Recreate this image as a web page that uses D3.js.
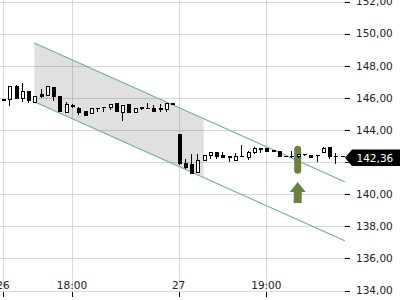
<!DOCTYPE html>
<html>
<head>
<meta charset="utf-8">
<script src="https://cdn.jsdelivr.net/npm/d3@7"></script>
<style>
  body { margin: 0; background: #fff; }
  svg { display: block; font-family: "DejaVu Sans", sans-serif; }
</style>
</head>
<body>
<div id="chart"></div>
<script>
// 15 minute candles
const opens  = [145.87, 145.93, 146.74, 145.99, 146.37, 145.74, 146.24, 146.12, 146.62, 146.06,
                145.12, 145.50, 145.37, 145.18, 145.00, 145.37, 145.43, 145.43, 145.62, 145.12,
                145.56, 145.12, 145.43, 145.34, 145.37, 145.37, 145.25, 145.65, 143.75, 141.94,
                141.82, 141.38, 142.07, 142.44, 142.57, 142.44, 142.32, 142.07, 142.38, 142.26,
                142.57, 142.82, 142.82, 142.75, 142.63, 142.38, 142.38, 142.32, 142.50, 142.44,
                142.44, 142.57, 142.88, 142.38, 142.36];
const highs  = [145.88, 146.74, 146.80, 146.93, 146.37, 146.06, 146.55, 146.68, 146.62, 146.06,
                145.74, 145.62, 145.43, 145.18, 145.37, 145.37, 145.43, 145.56, 145.62, 145.50,
                145.56, 145.37, 145.43, 145.68, 145.56, 145.62, 145.62, 145.65, 143.75, 142.19,
                142.50, 142.50, 142.44, 142.63, 142.63, 142.63, 142.32, 142.57, 143.07, 142.69,
                142.94, 142.82, 142.82, 142.75, 142.63, 142.40, 142.69, 142.50, 142.50, 142.44,
                142.44, 142.94, 142.94, 142.57, 142.36];
const lows   = [145.86, 145.50, 145.99, 145.74, 145.68, 145.74, 145.99, 146.12, 145.81, 145.18,
                145.12, 145.37, 144.93, 144.93, 145.00, 145.12, 145.12, 145.25, 145.18, 144.56,
                145.06, 145.12, 145.25, 145.31, 145.18, 145.12, 145.12, 145.62, 141.82, 141.57,
                141.32, 141.38, 142.07, 142.19, 142.19, 142.26, 142.01, 142.07, 142.32, 142.13,
                142.50, 142.57, 142.63, 142.63, 142.38, 142.36, 142.26, 142.26, 142.38, 142.26,
                142.01, 142.57, 142.19, 141.88, 142.36];
const closes = [145.87, 146.68, 145.99, 146.37, 145.81, 146.06, 146.06, 146.68, 146.06, 145.18,
                145.56, 145.47, 145.06, 144.93, 145.37, 145.34, 145.40, 145.56, 145.18, 145.50,
                145.06, 145.37, 145.37, 145.31, 145.18, 145.25, 145.62, 145.62, 141.94, 141.69,
                141.32, 142.13, 142.44, 142.57, 142.32, 142.26, 142.29, 142.32, 142.32, 142.57,
                142.82, 142.79, 142.63, 142.63, 142.38, 142.38, 142.32, 142.50, 142.47, 142.26,
                142.41, 142.82, 142.38, 142.32, 142.36];

const xTickIdx    = [0, 11, 28, 42];
const xTickLabels = ["26", "18:00", "27", "19:00"];
const yTicks      = [134, 136, 138, 140, 142, 144, 146, 148, 150, 152];

// trend channel: [start index, end index] and values at those ends
const chanIdx   = [5, 54.5];
const chanUpper = [149.42, 140.78];
const chanLower = [145.76, 137.10];
const shadeEnd  = 32;

// signal marker
const signalIdx  = 47;
const signalBand = [143.02, 141.28];
const arrowSpan  = [140.76, 139.45];

const lastPrice = closes[closes.length - 1];

const width = 400, height = 300;
const plotRight = 345;

const svg = d3.select("#chart").append("svg")
    .attr("width", width)
    .attr("height", height);

const x = d3.scaleLinear().domain([0, 54]).range([3, 341.6]);
const y = d3.scaleLinear().domain([134, 152]).range([290.5, 1.6]);
const px = v => Math.round(v) + 0.5;
const fmt = v => d3.format(".2f")(v).replace(".", ",");

// grid
svg.append("g")
    .selectAll("line")
    .data(yTicks)
    .join("line")
    .attr("x1", 0).attr("x2", plotRight)
    .attr("y1", d => px(y(d))).attr("y2", d => px(y(d)))
    .attr("stroke", "#d9d9d9");

svg.append("g")
    .selectAll("line")
    .data(xTickIdx)
    .join("line")
    .attr("x1", d => px(x(d))).attr("x2", d => px(x(d)))
    .attr("y1", 0).attr("y2", px(y(134)))
    .attr("stroke", "#d9d9d9");

// channel
const upAt = t => chanUpper[0] + (chanUpper[1] - chanUpper[0]) * (t - chanIdx[0]) / (chanIdx[1] - chanIdx[0]);
const loAt = t => chanLower[0] + (chanLower[1] - chanLower[0]) * (t - chanIdx[0]) / (chanIdx[1] - chanIdx[0]);

svg.append("path")
    .attr("d", d3.line()([
        [x(chanIdx[0]), y(upAt(chanIdx[0]))],
        [x(shadeEnd), y(upAt(shadeEnd))],
        [x(shadeEnd), y(loAt(shadeEnd))],
        [x(chanIdx[0]), y(loAt(chanIdx[0]))]
    ]) + "Z")
    .attr("fill", "rgba(0,0,0,0.12)");

svg.append("line")
    .attr("x1", x(chanIdx[0])).attr("y1", y(chanUpper[0]))
    .attr("x2", x(chanIdx[1])).attr("y2", y(chanUpper[1]))
    .attr("stroke", "#6fadb3").attr("stroke-width", 1.2);
svg.append("line")
    .attr("x1", x(chanIdx[0])).attr("y1", y(chanLower[0]))
    .attr("x2", x(chanIdx[1])).attr("y2", y(chanLower[1]))
    .attr("stroke", "#6fadb3").attr("stroke-width", 1.2);

// signal marker + arrow
const sx = x(signalIdx);
svg.append("rect")
    .attr("x", sx - 3.5).attr("width", 7)
    .attr("y", y(signalBand[0])).attr("height", y(signalBand[1]) - y(signalBand[0]))
    .attr("rx", 3.5)
    .attr("fill", "#6d8040");

const aTop = y(arrowSpan[0]), aBot = y(arrowSpan[1]);
const aHead = aTop + 10;
svg.append("path")
    .attr("d", d3.line()([
        [sx, aTop], [sx + 8, aHead], [sx + 4, aHead], [sx + 4, aBot],
        [sx - 4, aBot], [sx - 4, aHead], [sx - 8, aHead]
    ]) + "Z")
    .attr("fill", "#6d8040");

// candles
const candles = d3.range(opens.length).map(i => ({
    i: i, o: opens[i], h: highs[i], l: lows[i], c: closes[i]
}));

const cg = svg.append("g").attr("shape-rendering", "crispEdges");
cg.selectAll(".wick")
    .data(candles)
    .join("line")
    .attr("class", "wick")
    .attr("x1", d => px(x(d.i))).attr("x2", d => px(x(d.i)))
    .attr("y1", d => y(d.h)).attr("y2", d => y(d.l))
    .attr("stroke", "#000");

cg.selectAll(".body")
    .data(candles)
    .join("rect")
    .attr("class", "body")
    .attr("x", d => px(x(d.i)) - 1.5)
    .attr("width", 3)
    .attr("y", d => y(Math.max(d.o, d.c)))
    .attr("height", d => Math.max(0.5, Math.abs(y(d.o) - y(d.c))))
    .attr("fill", d => d.c >= d.o ? "#fff" : "#000")
    .attr("stroke", "#000");

// dotted line to price tag
const ly = y(lastPrice);
svg.append("line")
    .attr("x1", x(54) + 2).attr("x2", plotRight)
    .attr("y1", px(ly)).attr("y2", px(ly))
    .attr("stroke", "#000")
    .attr("stroke-dasharray", "2,2");

// y axis ticks and labels (the label under the price tag is hidden)
const ty = ly + 1.5;
const ya = svg.append("g");
ya.selectAll("line")
    .data(yTicks)
    .join("line")
    .attr("x1", plotRight).attr("x2", plotRight + 5)
    .attr("y1", d => px(y(d))).attr("y2", d => px(y(d)))
    .attr("stroke", "#000");
ya.selectAll("text")
    .data(yTicks.filter(d => Math.abs(y(d) - ty) > 12))
    .join("text")
    .attr("x", 356)
    .attr("y", d => y(d))
    .attr("dy", "0.36em")
    .attr("font-size", "10.5px")
    .attr("fill", "#222")
    .text(d => fmt(d));

// price tag
svg.append("path")
    .attr("d", d3.line()([
        [plotRight, ty], [352, ty - 8.3], [400, ty - 8.3], [400, ty + 8.3], [352, ty + 8.3]
    ]) + "Z")
    .attr("fill", "#000");
svg.append("text")
    .attr("x", 356.5).attr("y", ty)
    .attr("dy", "0.36em")
    .attr("font-size", "10.5px")
    .attr("fill", "#fff")
    .text(fmt(lastPrice));

// x axis ticks and labels
const xa = svg.append("g");
xa.selectAll("line")
    .data(xTickIdx)
    .join("line")
    .attr("x1", d => px(x(d))).attr("x2", d => px(x(d)))
    .attr("y1", 292).attr("y2", 297)
    .attr("stroke", "#000");
xa.selectAll("text")
    .data(xTickIdx)
    .join("text")
    .attr("x", d => x(d))
    .attr("y", 289)
    .attr("text-anchor", "middle")
    .attr("font-size", "10.5px")
    .attr("fill", "#222")
    .text((d, i) => xTickLabels[i]);
</script>
</body>
</html>
